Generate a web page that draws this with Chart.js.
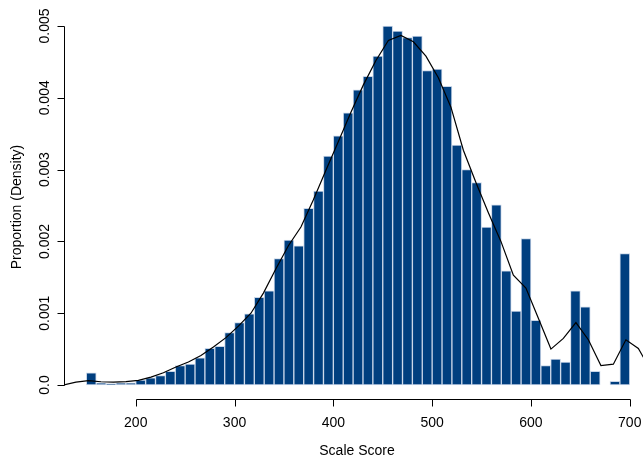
<!DOCTYPE html>
<html>
<head>
<meta charset="utf-8">
<script src="https://cdn.jsdelivr.net/npm/chart.js@4.4.1/dist/chart.umd.min.js"></script>
<style>
  html, body { margin: 0; padding: 0; background: #fff; }
  canvas { display: block; }
</style>
</head>
<body>
<canvas id="hist" width="643" height="459"></canvas>
<script>
// histogram bins, 10 points wide, labelled by their midpoints
var binMids = [155, 165, 175, 185, 195, 205, 215, 225, 235, 245,
  255, 265, 275, 285, 295, 305, 315, 325, 335, 345,
  355, 365, 375, 385, 395, 405, 415, 425, 435, 445,
  455, 465, 475, 485, 495, 505, 515, 525, 535, 545,
  555, 565, 575, 585, 595, 605, 615, 625, 635, 645,
  655, 665, 675, 685, 695];
// proportion (density) of each bin
var binDensity = [0.00017, 0.00003, 0.00002, 0.00003, 0.00003, 0.00007, 0.0001, 0.00013, 0.00019, 0.00027,
  0.00029, 0.00038, 0.00051, 0.00054, 0.00073, 0.00087, 0.00099, 0.00122, 0.00131, 0.00176,
  0.00202, 0.00194, 0.00246, 0.0027, 0.00319, 0.00347, 0.00379, 0.00411, 0.0043, 0.00458,
  0.005, 0.00493, 0.00484, 0.00486, 0.00438, 0.0044, 0.00416, 0.00334, 0.003, 0.00282,
  0.0022, 0.00251, 0.00159, 0.00103, 0.00204, 0.0009, 0.00027, 0.00036, 0.00032, 0.00131,
  0.00109, 0.00019, 0, 0.00005, 0.00183];

// smoothed density curve
var curveX = [126.8, 139.5, 152.1, 164.8, 177.4, 190.1, 202.7, 215.4, 228, 240.7,
  253.3, 266, 278.6, 291.3, 303.9, 316.6, 329.2, 341.9, 354.5, 367.2,
  379.8, 392.5, 405.1, 417.8, 430.4, 443.1, 455.7, 468.4, 481, 493.7,
  506.3, 519, 531.6, 544.3, 556.9, 569.6, 582.2, 594.9, 607.5, 620.2,
  632.8, 645.5, 658.1, 670.8, 683.4, 696.1, 708.7, 721.4];
var curveY = [0, 0.00004, 0.00006, 0.000045, 0.00004, 0.000046, 0.000065, 0.00011, 0.00017, 0.00025,
  0.00032, 0.00041, 0.00053, 0.00066, 0.00082, 0.001, 0.00128, 0.00162, 0.00194, 0.0022,
  0.00258, 0.00299, 0.00339, 0.0038, 0.00418, 0.00452, 0.0048, 0.00487, 0.00478, 0.00458,
  0.00428, 0.00387, 0.00327, 0.00282, 0.0024, 0.002, 0.00153, 0.00135, 0.00093, 0.0005,
  0.00065, 0.00087, 0.00063, 0.00027, 0.00029, 0.00063, 0.00051, 0.0002];

var xTicks = [200, 300, 400, 500, 600, 700];
var yTicks = [0, 0.001, 0.002, 0.003, 0.004, 0.005];
var yTickLabels = ['0.0', '0.001', '0.002', '0.003', '0.004', '0.005'];

var FONT = '14px "Liberation Sans", Arial, sans-serif';

// R-style axes: lines only span the tick range, drawn off the plot region
var rAxes = {
  id: 'rAxes',
  afterDraw: function(chart) {
    var ctx = chart.ctx;
    var xs = chart.scales.x, ys = chart.scales.y;
    var axisY = 399.5, axisX = 64.5, tick = 7;
    ctx.save();
    ctx.strokeStyle = '#000';
    ctx.lineWidth = 1;
    ctx.fillStyle = '#000';
    ctx.font = FONT;

    // x axis
    var x0 = Math.round(xs.getPixelForValue(xTicks[0])) + 0.5;
    var x1 = Math.round(xs.getPixelForValue(xTicks[xTicks.length - 1])) + 0.5;
    ctx.beginPath();
    ctx.moveTo(x0, axisY); ctx.lineTo(x1, axisY);
    xTicks.forEach(function(v) {
      var px = Math.round(xs.getPixelForValue(v)) + 0.5;
      ctx.moveTo(px, axisY); ctx.lineTo(px, axisY + tick);
    });
    ctx.stroke();
    ctx.textAlign = 'center';
    ctx.textBaseline = 'middle';
    xTicks.forEach(function(v) {
      ctx.fillText(String(v), xs.getPixelForValue(v), 423);
    });
    ctx.fillText('Scale Score', 357, 451);

    // y axis
    var y0 = Math.round(ys.getPixelForValue(yTicks[0])) + 0.5;
    var y1 = Math.round(ys.getPixelForValue(yTicks[yTicks.length - 1])) + 0.5;
    ctx.beginPath();
    ctx.moveTo(axisX, y0); ctx.lineTo(axisX, y1);
    yTicks.forEach(function(v) {
      var py = Math.round(ys.getPixelForValue(v)) + 0.5;
      ctx.moveTo(axisX, py); ctx.lineTo(axisX - tick, py);
    });
    ctx.stroke();
    yTicks.forEach(function(v, i) {
      ctx.save();
      ctx.translate(45, ys.getPixelForValue(v));
      ctx.rotate(-Math.PI / 2);
      ctx.fillText(yTickLabels[i], 0, 0);
      ctx.restore();
    });
    ctx.save();
    ctx.translate(17, 207);
    ctx.rotate(-Math.PI / 2);
    ctx.fillText('Proportion (Density)', 0, 0);
    ctx.restore();
    ctx.restore();
  }
};

var elem = document.getElementById('hist');
var histChart = new Chart(elem, {
  type: 'bar',
  data: {
    datasets: [{
      type: 'line',
      label: 'density',
      data: curveX.map(function(x, i) { return {x: x, y: curveY[i]}; }),
      borderColor: '#000',
      borderWidth: 1.2,
      pointRadius: 0,
      tension: 0,
      fill: false,
      order: 0
    }, {
      type: 'bar',
      label: 'histogram',
      data: binMids.map(function(x, i) { return {x: x, y: binDensity[i]}; }),
      backgroundColor: '#003f7f',
      borderColor: '#c9d6e8',
      borderWidth: 1,
      borderSkipped: false,
      barPercentage: 1,
      categoryPercentage: 1,
      order: 1
    }]
  },
  options: {
    responsive: false,
    animation: false,
    devicePixelRatio: 1,
    layout: { padding: { left: 64, right: 0, top: 10, bottom: 60 } },
    plugins: { legend: { display: false }, tooltip: { enabled: false } },
    scales: {
      x: {
        type: 'linear',
        offset: false,
        min: 127.4,
        max: 713.4,
        display: false
      },
      y: {
        type: 'linear',
        min: -0.000195,
        max: 0.005223,
        display: false
      }
    }
  },
  plugins: [rAxes]
});
</script>
</body>
</html>
